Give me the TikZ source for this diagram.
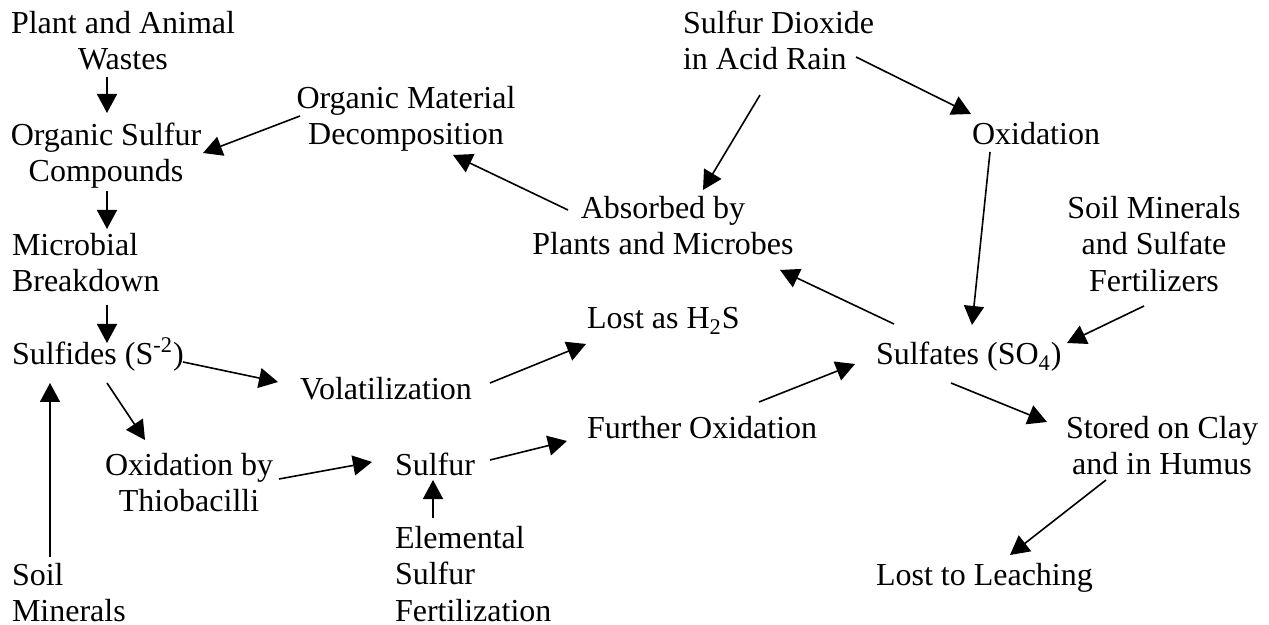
\documentclass[tikz,border=0pt]{standalone}
\usepackage{fontspec}
\setmainfont{Liberation Serif}
\usetikzlibrary{arrows.meta}
\begin{document}
\begin{tikzpicture}[x=0.5pt,y=-0.5pt,
  lbl/.style={inner sep=0pt,outer sep=0pt,font=\fontsize{16}{18.4}\selectfont},
  ctr/.style={lbl,align=center},
  lft/.style={lbl,align=left},
  arr/.style={line width=0.8pt,-{Triangle[length=9.5pt,width=10pt]}}]
\useasboundingbox (0,0) rectangle (1269,625);
% nodes
\node[ctr] (plant) at (123,44.1) {\strut Plant and Animal\\\strut Wastes};
\node[ctr] (osc) at (106,156.1) {\strut Organic Sulfur\\\strut Compounds};
\node[lft,anchor=west] (micro) at (12,266.1) {\strut Microbial\\\strut Breakdown};
\node[lbl,anchor=base west] (sulfides) at (12,365) {Sulfides (S\textsuperscript{-2})};
\node[lbl,anchor=base west] (volat) at (300,400) {Volatilization};
\node[ctr] (oxby) at (189,486.1) {\strut Oxidation by\\\strut Thiobacilli};
\node[lbl,anchor=base west] (sulfur) at (395,475) {Sulfur};
\node[lft,anchor=west] (elem) at (395,577.6) {\strut Elemental\\\strut Sulfur\\\strut Fertilization};
\node[lft,anchor=west] (soilmin) at (12,596.1) {\strut Soil\\\strut Minerals};
\node[lbl,anchor=base west] (losth2s) at (587,329) {Lost as H\textsubscript{2}S};
\node[lbl,anchor=base west] (further) at (587,438) {Further Oxidation};
\node[lbl,anchor=base west] (sulfates) at (876,365) {Sulfates (SO\textsubscript{4})};
\node[ctr] (stored) at (1162,449.1) {\strut Stored on Clay\\\strut and in Humus};
\node[lbl,anchor=base west] (leach) at (876,585) {Lost to Leaching};
\node[lbl,anchor=base west] (oxid) at (972,145) {Oxidation};
\node[lft,anchor=west] (so2) at (683,44.1) {\strut Sulfur Dioxide\\\strut in Acid Rain};
\node[ctr] (absorbed) at (663,229.1) {\strut Absorbed by\\\strut Plants and Microbes};
\node[ctr] (omd) at (406,119.1) {\strut Organic Material\\\strut Decomposition};
\node[ctr] (soilfert) at (1154,247.6) {\strut Soil Minerals\\\strut and Sulfate\\\strut Fertilizers};
% connectors
\draw[arr] ([shift={(-16,32.9)}]plant.center) -- ([shift={(1,-43.1)}]osc.center);
\draw[arr] ([shift={(-106,-3.1)}]omd.center) -- ([shift={(97,-3.1)}]osc.center);
\draw[arr] ([shift={(1,34.9)}]osc.center) -- ([shift={(95,-37.1)}]micro.west);
\draw[arr] ([shift={(95,38.9)}]micro.west) -- ([shift={(95,-22)}]sulfides.base west);
\draw[arr] ([shift={(171,-3)}]sulfides.base west) -- ([shift={(-22,-18)}]volat.base west);
\draw[arr] ([shift={(95,18)}]sulfides.base west) -- ([shift={(-44,-46.1)}]oxby.center);
\draw[arr] ([shift={(38,-39.1)}]soilmin.west) -- ([shift={(38,18)}]sulfides.base west);
\draw[arr] ([shift={(90,-7.1)}]oxby.center) -- ([shift={(-23,-13)}]sulfur.base west);
\draw[arr] ([shift={(38,-59.6)}]elem.west) -- ([shift={(38,5)}]sulfur.base west);
\draw[arr] ([shift={(190,-17)}]volat.base west) -- ([shift={(-1,15)}]losth2s.base west);
\draw[arr] ([shift={(95,-15)}]sulfur.base west) -- ([shift={(-20,3)}]further.base west);
\draw[arr] ([shift={(172,-36)}]further.base west) -- ([shift={(-21,-1)}]sulfates.base west);
\draw[arr] ([shift={(173,12.9)}]so2.west) -- ([shift={(-1,-31)}]oxid.base west);
\draw[arr] ([shift={(77,50.9)}]so2.west) -- ([shift={(40,-39.1)}]absorbed.center);
\draw[arr] ([shift={(18,7)}]oxid.base west) -- ([shift={(96,-40)}]sulfates.base west);
\draw[arr] ([shift={(18,-41)}]sulfates.base west) -- ([shift={(117,40.9)}]absorbed.center);
\draw[arr] ([shift={(-95,-19.1)}]absorbed.center) -- ([shift={(47,35.9)}]omd.center);
\draw[arr] ([shift={(-10,58.4)}]soilfert.center) -- ([shift={(191,-22)}]sulfates.base west);
\draw[arr] ([shift={(75,18)}]sulfates.base west) -- ([shift={(-115,-27.1)}]stored.center);
\draw[arr] ([shift={(-56,30.9)}]stored.center) -- ([shift={(134,-30)}]leach.base west);
\end{tikzpicture}
\end{document}
